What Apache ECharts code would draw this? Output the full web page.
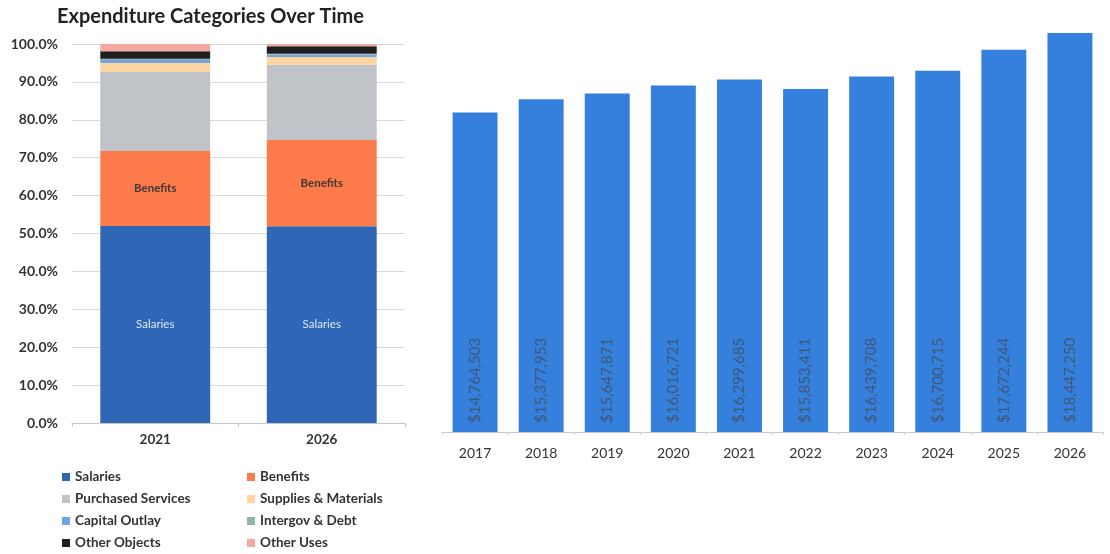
<!DOCTYPE html>
<html>
<head>
<meta charset="utf-8">
<script src="https://cdn.jsdelivr.net/npm/echarts@6/dist/echarts.min.js"></script>
<style>
  html, body { margin: 0; padding: 0; background: #fff; }
  #chart { width: 1110px; height: 554px; }
</style>
</head>
<body>
<div id="chart"></div>
<script>
// stacked share chart (percent)
const shareYears = ['2021', '2026'];
const salaries = [52.0, 51.9];
const benefits = [19.8, 22.8];
const purchased = [20.8, 19.8];
const supplies = [2.4, 2.1];
const capitalOutlay = [0.8, 0.6];
const intergov = [0.3, 0.2];
const otherObjects = [2.0, 2.0];
const otherUses = [1.9, 0.6];

// total expenditure by year
const years = ['2017', '2018', '2019', '2020', '2021', '2022', '2023', '2024', '2025', '2026'];
const totals = [14764503, 15377953, 15647871, 16016721, 16299685, 15853411, 16439708, 16700715, 17672244, 18447250];

const pctTicks = [0, 10, 20, 30, 40, 50, 60, 70, 80, 90, 100];

const font = 'Lato, "Open Sans", sans-serif';

const chart = echarts.init(document.getElementById('chart'));

const stackSeries = (name, data, color, label) => ({
    name: name,
    type: 'bar',
    stack: 'share',
    xAxisIndex: 0,
    yAxisIndex: 0,
    barWidth: '66%',
    data: data,
    itemStyle: { color: color },
    label: label || { show: false },
    emphasis: { disabled: true }
});

const legendBase = {
    top: 470,
    padding: 0,
    orient: 'vertical',
    itemWidth: 8,
    itemHeight: 8,
    itemGap: 8,
    icon: 'rect',
    textStyle: { fontSize: 13.5, fontWeight: 'bold', color: '#333', lineHeight: 14 }
};

chart.setOption({
    animation: false,
    textStyle: { fontFamily: font },
    title: {
        text: 'Expenditure Categories Over Time',
        left: 52,
        top: 2,
        textStyle: { fontSize: 20, fontWeight: 'bold', color: '#222', fontFamily: font }
    },
    legend: [
        Object.assign({ left: 62, data: ['Salaries', 'Purchased Services', 'Capital Outlay', 'Other Objects'] }, legendBase),
        Object.assign({ left: 247, data: ['Benefits', 'Supplies & Materials', 'Intergov & Debt', 'Other Uses'] }, legendBase)
    ],
    grid: [
        { left: 72, right: 705, top: 44, bottom: 131 },
        { left: 442, right: 7, top: 21, bottom: 122 }
    ],
    xAxis: [{
        type: 'category',
        gridIndex: 0,
        data: shareYears,
        axisLine: { lineStyle: { color: '#c8c8c8' } },
        axisTick: { show: true, length: 4, lineStyle: { color: '#c8c8c8' } },
        axisLabel: { fontSize: 13.5, fontWeight: 'bold', color: '#333', margin: 10 }
    }, {
        type: 'category',
        gridIndex: 1,
        data: years,
        axisLine: { lineStyle: { color: '#c8c8c8' } },
        axisTick: { show: true, length: 3, lineStyle: { color: '#d0d0d0' } },
        axisLabel: { fontSize: 14, color: '#333', margin: 14 }
    }],
    yAxis: [{
        type: 'value',
        gridIndex: 0,
        min: pctTicks[0],
        max: pctTicks[pctTicks.length - 1],
        interval: 10,
        axisLine: { show: false },
        axisTick: { show: false },
        splitLine: { lineStyle: { color: '#d9d9d9' } },
        axisLabel: {
            fontSize: 14, fontWeight: 'bold', color: '#333', margin: 14,
            formatter: v => v.toFixed(1) + '%'
        }
    }, {
        type: 'value',
        gridIndex: 1,
        min: 0,
        max: 19000000,
        show: false
    }],
    series: [
        stackSeries('Salaries', salaries, '#2f66b6', {
            show: true, formatter: '{a}', color: '#dfe8f6', fontSize: 11.5
        }),
        stackSeries('Benefits', benefits, '#fd7b4b', {
            show: true, formatter: '{a}', color: '#3d3a38', fontSize: 11.5, fontWeight: 'bold'
        }),
        stackSeries('Purchased Services', purchased, '#c0c4c8'),
        stackSeries('Supplies & Materials', supplies, '#fed4a0'),
        stackSeries('Capital Outlay', capitalOutlay, '#6ea6e0'),
        stackSeries('Intergov & Debt', intergov, '#8fb5a8'),
        stackSeries('Other Objects', otherObjects, '#1f1f1f'),
        stackSeries('Other Uses', otherUses, '#f2aaa0'),
        {
            name: 'Total',
            type: 'bar',
            xAxisIndex: 1,
            yAxisIndex: 1,
            barWidth: '68%',
            data: totals,
            itemStyle: { color: '#3580dc' },
            emphasis: { disabled: true },
            label: {
                show: true,
                position: 'insideBottom',
                rotate: 90,
                align: 'left',
                verticalAlign: 'middle',
                distance: 9,
                color: '#3f5675',
                fontSize: 15,
                formatter: p => '$' + p.value.toLocaleString('en-US')
            }
        }
    ]
});
</script>
</body>
</html>
